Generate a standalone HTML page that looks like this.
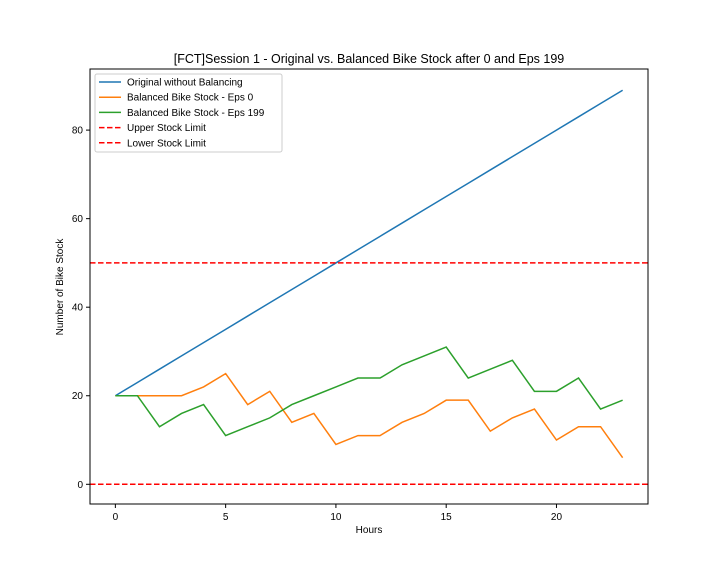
<!DOCTYPE html>
<html><head><meta charset="utf-8"><style>
body{margin:0;background:#fff;font-family:"Liberation Sans","DejaVu Sans",sans-serif;}
svg text{font-family:"Liberation Sans","DejaVu Sans",sans-serif;}
</style></head><body>
<svg id="chart" width="720" height="576" xmlns="http://www.w3.org/2000/svg"></svg>
<script>
const hours = [0,1,2,3,4,5,6,7,8,9,10,11,12,13,14,15,16,17,18,19,20,21,22,23];
const original = [20,23,26,29,32,35,38,41,44,47,50,53,56,59,62,65,68,71,74,77,80,83,86,89];
const eps0 = [20,20,20,20,22,25,18,21,14,16,9,11,11,14,16,19,19,12,15,17,10,13,13,6];
const eps199 = [20,20,13,16,18,11,13,15,18,20,22,24,24,27,29,31,24,26,28,21,21,24,17,19];
const upperLimit = 50, lowerLimit = 0;
const xTicks = [0,5,10,15,20];
const yTicks = [0,20,40,60,80];
const legendLabels = ["Original without Balancing","Balanced Bike Stock - Eps 0","Balanced Bike Stock - Eps 199","Upper Stock Limit","Lower Stock Limit"];

const NS="http://www.w3.org/2000/svg", svg=document.getElementById('chart');
const L=90,R=648,T=69,B=504;
const xMin=-1.15,xMax=24.15,yMin=-4.45,yMax=93.8;
const X=v=>L+(v-xMin)/(xMax-xMin)*(R-L);
const Y=v=>B-(v-yMin)/(yMax-yMin)*(B-T);
function el(tag,attrs,parent){const e=document.createElementNS(NS,tag);for(const k in attrs)e.setAttribute(k,attrs[k]);(parent||svg).appendChild(e);return e;}

let t=el('text',{x:369,y:63,'text-anchor':'middle','font-size':12.5});t.textContent="[FCT]Session 1 - Original vs. Balanced Bike Stock after 0 and Eps 199";



function line(data,color,name){
  const pts=data.map((v,i)=>X(hours[i])+','+Y(v)).join(' ');
  const p=el('polyline',{points:pts,fill:'none',stroke:color,'stroke-width':1.5});
  
  
}
function hline(v,name){
  const p=el('line',{x1:L,x2:R,y1:Y(v),y2:Y(v),stroke:'#ff0000','stroke-width':1.5,'stroke-dasharray':'5.5,2.5'});
  
  
}
line(original,'#1f77b4','original-line');
line(eps0,'#ff7f0e','eps0-line');
line(eps199,'#2ca02c','eps199-line');
hline(upperLimit,'upper-limit-line');
hline(lowerLimit,'lower-limit-line');

const frame=el('rect',{x:L,y:T,width:R-L,height:B-T,fill:'none',stroke:'#000','stroke-width':1});



xTicks.forEach(v=>{
  el('line',{x1:X(v),x2:X(v),y1:B,y2:B+4,stroke:'#000'});
  const tx=el('text',{x:X(v),y:B+16,'text-anchor':'middle','font-size':10});tx.textContent=v;
  
  
});
yTicks.forEach(v=>{
  el('line',{x1:L-4,x2:L,y1:Y(v),y2:Y(v),stroke:'#000'});
  const tx=el('text',{x:L-7,y:Y(v)+3.5,'text-anchor':'end','font-size':10});tx.textContent=v;
  
  
});
t=el('text',{x:369,y:533,'text-anchor':'middle','font-size':10});t.textContent="Hours";


t=el('text',{x:63,y:287,'text-anchor':'middle','font-size':10,transform:'rotate(-90 63 287)'});t.textContent="Number of Bike Stock";



const lg=el('g',{});


el('rect',{x:95,y:74,width:187,height:78,fill:'#fff',stroke:'#ccc',rx:2},lg);
const colors=['#1f77b4','#ff7f0e','#2ca02c','#ff0000','#ff0000'];
legendLabels.forEach((lab,i)=>{
  const y=82+i*15.2;
  const ln=el('line',{x1:99,x2:121,y1:y,y2:y,stroke:colors[i],'stroke-width':1.5},lg);
  if(i>=3)ln.setAttribute('stroke-dasharray','5.5,2.5');
  const tx=el('text',{x:127,y:y+3.5,'font-size':10},lg);tx.textContent=lab;
  
  
});
</script>
</body></html>
